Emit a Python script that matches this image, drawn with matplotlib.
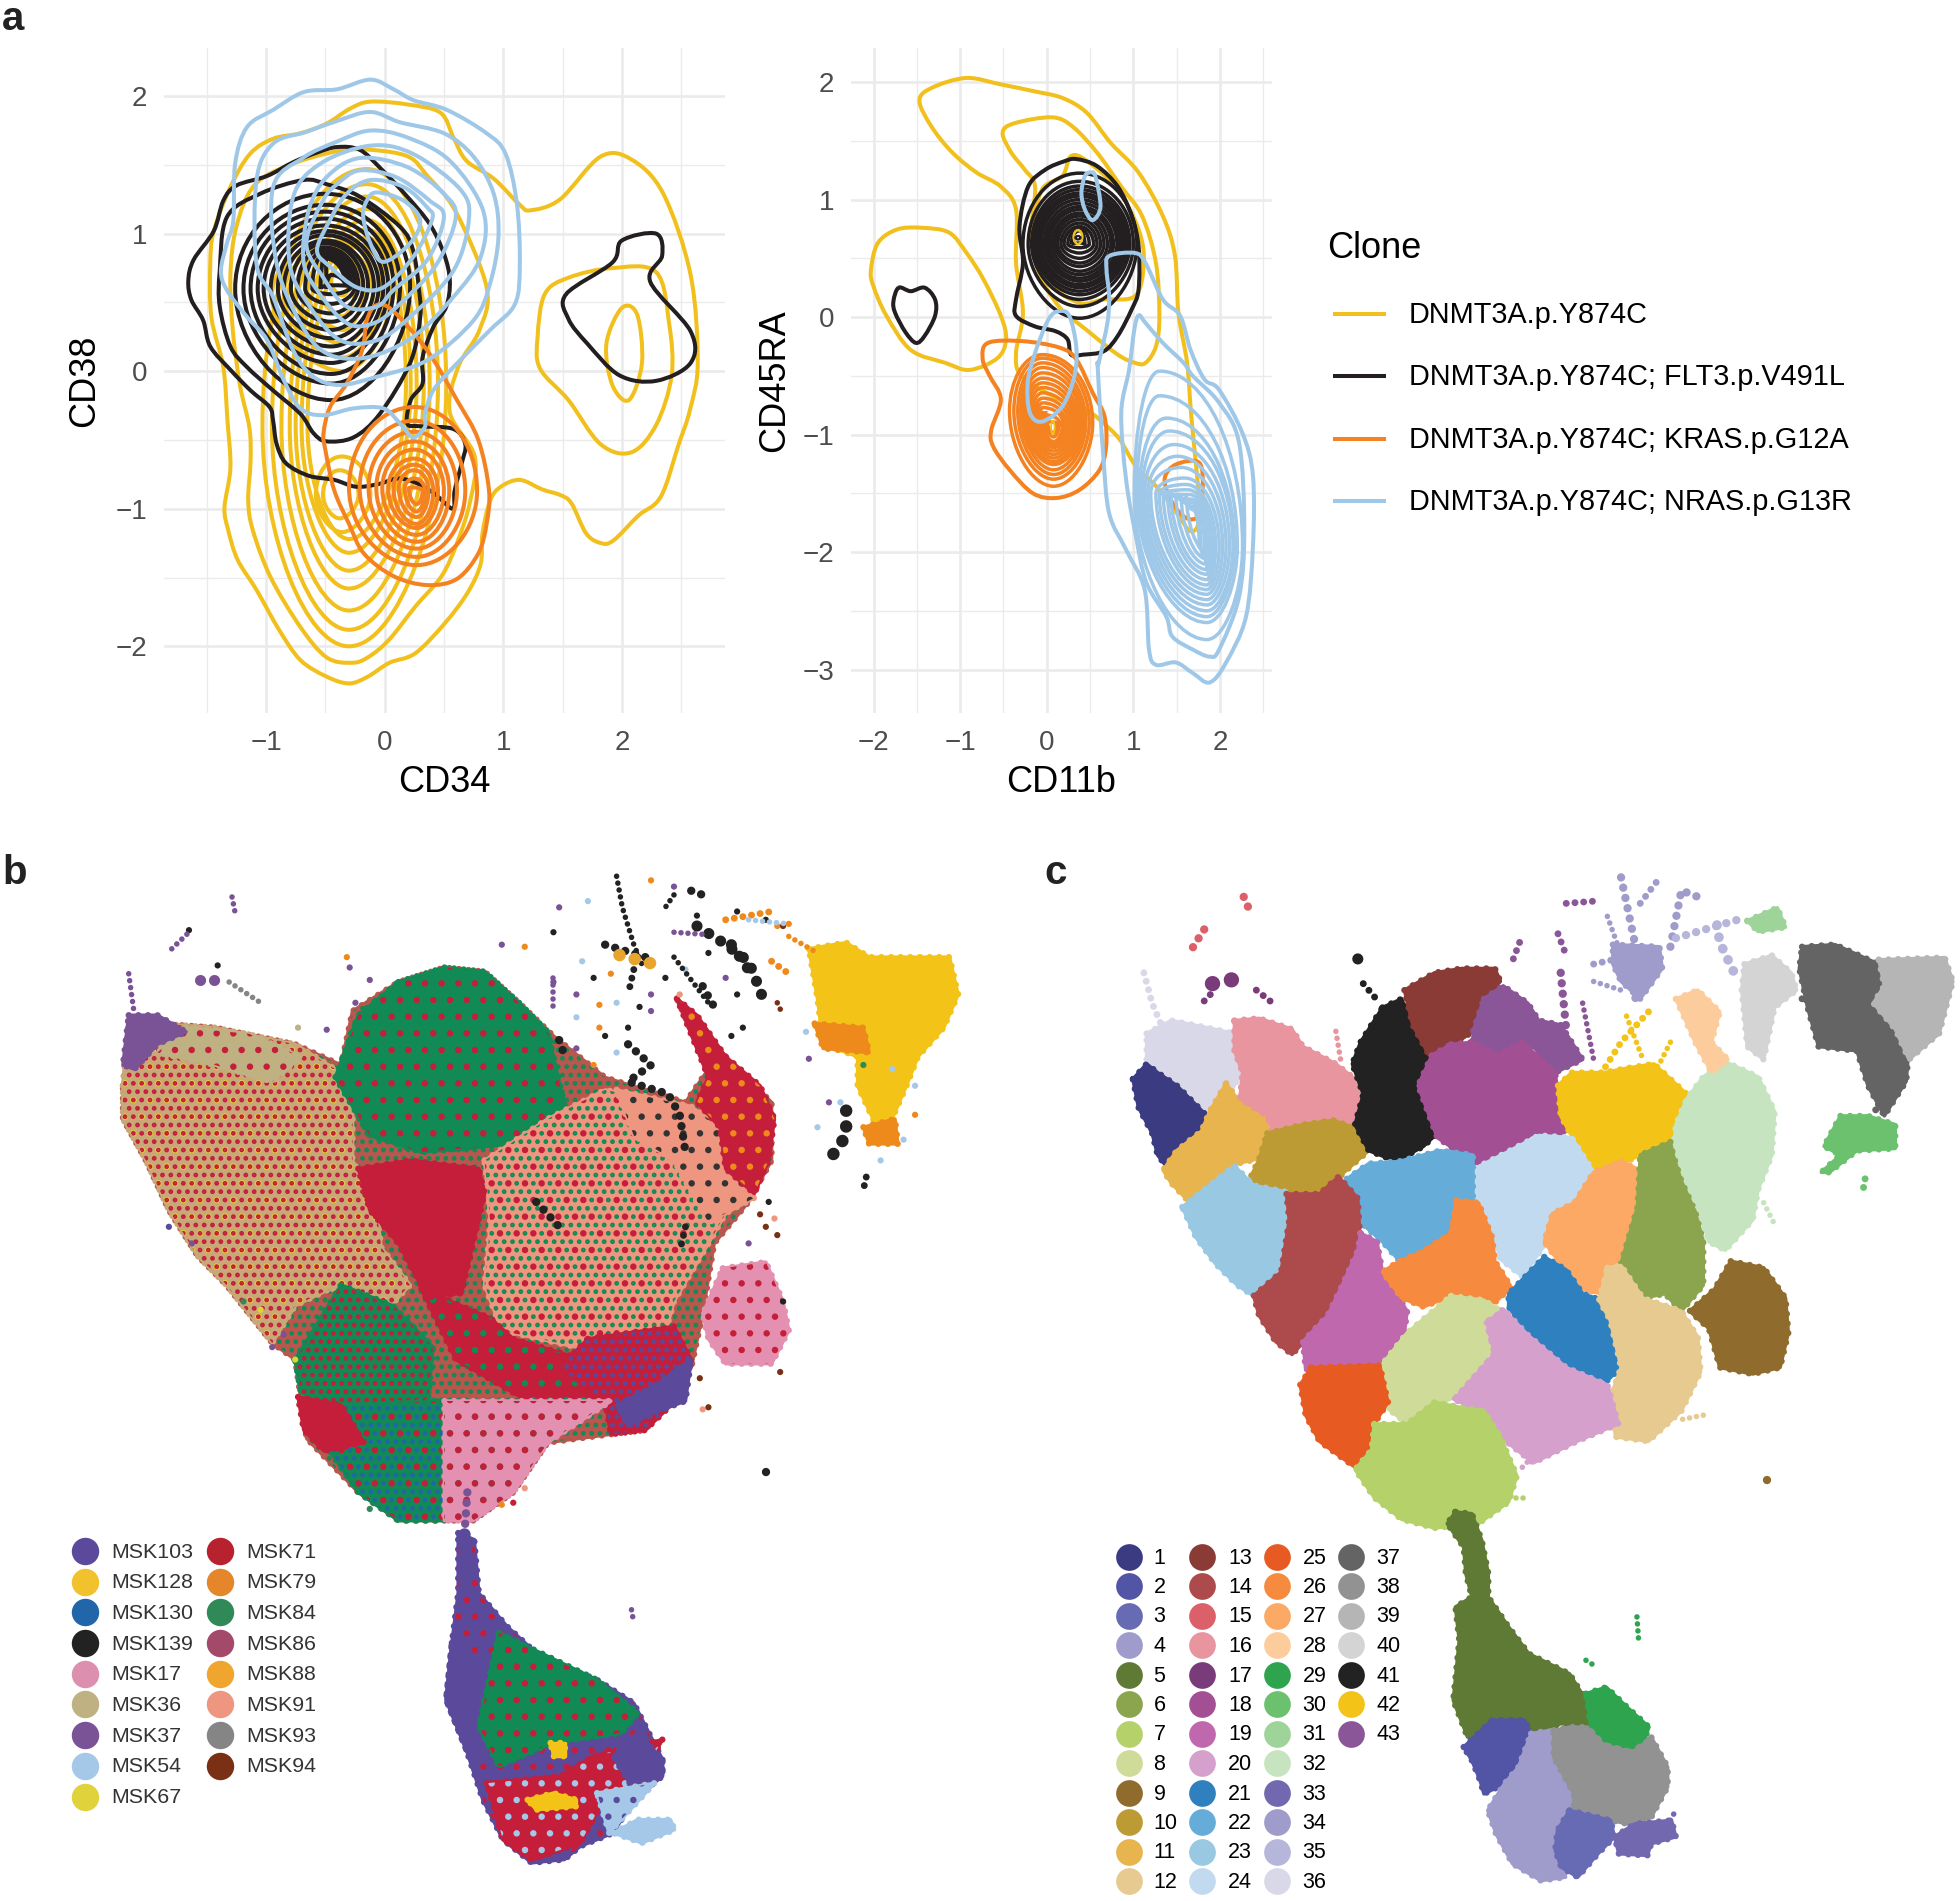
import matplotlib
matplotlib.use("Agg")
import matplotlib as mpl
import matplotlib.pyplot as plt
import numpy as np
from matplotlib.path import Path
from matplotlib.patches import PathPatch, Polygon
from matplotlib.lines import Line2D

plt.rcParams['font.family'] = ['Liberation Sans', 'DejaVu Sans']

W, H = 1960, 1901
YEL, BLK, ORG, BLU = '#f2c01c', '#231f20', '#f58220', '#9fc8e8'
clone_names = ['DNMT3A.p.Y874C', 'DNMT3A.p.Y874C; FLT3.p.V491L',
               'DNMT3A.p.Y874C; KRAS.p.G12A', 'DNMT3A.p.Y874C; NRAS.p.G13R']
clone_colors = [YEL, BLK, ORG, BLU]

# ---------- panel a, left: contours (CD34, CD38) ----------
L_yel_outer = [(-.12,1.96),(.19,1.94),(.47,1.88),(.58,1.70),(.69,1.53),(.92,1.40),(1.14,1.21),(1.23,1.17),(1.48,1.25),
 (1.82,1.56),(2.08,1.54),(2.35,1.29),(2.58,.70),(2.64,.06),(2.575,-.28),(2.48,-.53),(2.33,-.91),(2.14,-1.05),(1.93,-1.23),
 (1.825,-1.25),(1.70,-1.18),(1.575,-.96),(1.48,-.90),(1.33,-.86),(1.14,-.79),(.98,-.84),(.89,-.94),(.825,-1.18),(.81,-1.40),
 (.70,-1.61),(.51,-1.83),(.26,-2.05),(.04,-2.12),(-.14,-2.22),(-.30,-2.27),(-.49,-2.22),(-.71,-2.10),(-.89,-1.88),(-1.08,-1.59),
 (-1.24,-1.37),(-1.32,-1.15),(-1.35,-.99),(-1.30,-.70),(-1.325,-.36),(-1.36,.03),(-1.46,.39),(-1.47,.78),(-1.44,1.02),
 (-1.30,1.34),(-1.135,1.58),(-.94,1.69),(-.71,1.73),(-.49,1.80),(-.29,1.91)]
L_yel_lobe2 = [(1.29,.25),(1.35,.56),(1.55,.68),(1.92,.75),(2.29,.72),(2.40,.34),(2.42,-.03),(2.29,-.39),(2.08,-.59),(1.82,-.53),(1.55,-.21),(1.31,.02)]
L_yel_lobe3 = [(1.87,.20),(2.0,.46),(2.13,.41),(2.17,.06),(2.06,-.21),(1.92,-.10)]
L_yel_second = [(-.12,1.61),(.2,1.56),(.36,1.42),(.6,1.16),(.86,.61),(.80,.30),(.62,.03),(.55,-.3),(.76,-.62),(.72,-.95),
 (.61,-1.25),(.48,-1.49),(.26,-1.71),(.04,-1.95),(-.14,-2.08),(-.28,-2.12),(-.49,-2.08),(-.71,-1.86),(-.96,-1.50),(-1.11,-1.16),
 (-1.15,-.94),(-1.13,-.65),(-1.14,-.41),(-1.22,-.1),(-1.28,.3),(-1.30,.7),(-1.25,1.05),(-1.1,1.35),(-.8,1.5),(-.4,1.6)]
L_yel_left = [-1.03,-.95,-.87,-.80,-.75,-.70,-.65]
L_yel_right = [.52,.45,.38,.33,.27,.22,.18]
L_yel_top = [1.47,1.36,1.27,1.18,1.10,1.03,.97]
L_yel_bottom = [-2.0,-1.88,-1.74,-1.58,-1.45,-1.32,-1.22]
L_yel2_left = [-.58,-.52,-.95,-.85,-.75,-.65,-.55,-.45]
L_yel2_right = [-.12,-.22,.05,-.02,-.1,-.18,-.25,-.3]
L_yel2_top = [-.62,-.72,.95,.92,.88,.85,.82,.78]
L_yel2_bottom = [-1.17,-1.07,0,.1,.2,.3,.4,.55]
L_yel2_cx = [-.36,-.38,-.35,-.35,-.35,-.35,-.35,-.35]
L_yel2_my = [-.9,-.9,.55,.55,.55,.58,.6,.65]

L_blk_outer = [(-.40,1.63),(-.21,1.61),(-.04,1.48),(.19,1.27),(.38,1.07),(.50,.855),(.55,.66),(.52,.47),(.41,.32),(.32,.10),(.32,-.09),
 (.22,-.21),(.19,-.38),(.30,-.40),(.58,-.42),(.68,-.53),(.65,-.67),(.59,-.87),(.575,-1.0),(.42,-.89),(.26,-.81),(.11,-.78),(-.05,-.82),
 (-.24,-.84),(-.425,-.79),(-.64,-.76),(-.83,-.67),(-.91,-.53),(-.94,-.36),(-.97,-.26),(-1.13,-.14),(-1.30,.01),(-1.47,.18),(-1.53,.37),
 (-1.63,.52),(-1.655,.66),(-1.61,.81),(-1.44,1.02),(-1.36,1.24),(-1.25,1.35),(-.99,1.42),(-.77,1.52),(-.57,1.59)]
L_blk_second = [(-1.39,.73),(-1.33,1.12),(-1.05,1.29),(-.685,1.39),(-.49,1.36),(-.21,1.27),(.13,1.05),(.24,.88),(.29,.59),(.30,.39),(.215,.06),
 (-.04,-.31),(-.26,-.48),(-.49,-.51),(-.60,-.45),(-.71,-.31),(-.94,-.14),(-1.16,.03),(-1.30,.18),(-1.39,.47)]
L_blk_lobe = [(1.53,.56),(1.92,.79),(2.0,.95),(2.29,1.0),(2.34,.84),(2.24,.65),(2.58,.29),(2.58,.06),(2.29,-.07),(1.98,-.03),(1.71,.2),(1.55,.38)]
L_blk_left = [-1.26,-1.19,-1.13,-1.07,-1.02,-.96,-.90,-.85,-.79,-.735,-.67,-.61,-.54,-.49]
L_blk_right = [.215,.13,.075,.03,-.01,-.05,-.09,-.14,-.18,-.22,-.25,-.28,-.305,-.33]
L_blk_top = [1.29,1.21,1.16,1.11,1.06,1.02,.99,.95,.93,.90,.88,.86,.84,.82]
L_blk_bottom = [-.21,-.09,-.02,.06,.12,.18,.24,.30,.36,.42,.49,.56,.625,.70]

L_org_outer = [(-.07,.48),(.07,.44),(.36,.15),(.61,-.21),(.79,-.50),(.88,-.865),(.86,-1.11),(.79,-1.325),(.61,-1.51),(.36,-1.555),(.075,-1.49),
 (-.175,-1.325),(-.30,-1.11),(-.425,-.865),(-.50,-.57),(-.515,-.45),(-.46,-.26),(-.32,-.09),(-.19,.15),(-.15,.37)]
L_org_left = [-.30,-.21,-.135,-.07,-.02,.03,.075,.12,.17,.205]
L_org_right = [.78,.68,.61,.545,.50,.45,.41,.37,.34,.32]
L_org_top = [-.26,-.36,-.44,-.51,-.57,-.635,-.68,-.72,-.78,-.845]
L_org_bottom = [-1.41,-1.35,-1.29,-1.24,-1.19,-1.14,-1.11,-1.06,-1.02,-.966]

L_blu_contours = [
 [(-.12,2.12),(.075,2.05),(.245,1.97),(.525,1.90),(.86,1.73),(1.02,1.58),(1.115,1.22),(1.14,.78),(1.10,.49),(.89,.30),(.58,.03),(.41,-.14),(.34,-.31),
  (.34,-.405),(.24,-.48),(.13,-.38),(-.01,-.27),(-.26,-.27),(-.52,-.32),(-.71,-.27),(-.85,-.065),(-.99,.225),(-1.16,.395),(-1.33,.59),(-1.38,.73),
  (-1.33,.93),(-1.275,1.10),(-1.26,1.51),(-1.16,1.775),(-.94,1.90),(-.68,2.03),(-.40,2.05)],
 [(-.12,1.885),(.13,1.81),(.50,1.73),(.75,1.56),(.92,1.29),(.96,.98),(.89,.64),(.75,.37),(.36,.08),(-.065,-.04),(-.375,-.10),(-.60,-.04),(-.77,.15),
  (-.94,.54),(-1.08,.78),(-1.08,1.39),(-.94,1.655),(-.66,1.74),(-.40,1.82)],
 [(-.12,1.75),(.19,1.70),(.55,1.53),(.83,1.17),(.81,.83),(.58,.54),(.24,.25),(-.15,.10),(-.49,.13),(-.71,.35),(-.91,.78),(-.94,1.34),(-.69,1.55),(-.40,1.67)],
 [(-.12,1.64),(.24,1.58),(.64,1.32),(.71,1.10),(.58,.73),(.215,.395),(-.065,.225),(-.375,.225),(-.63,.47),(-.80,.78),(-.77,1.27),(-.54,1.51)],
 [(-.21,1.55),(.19,1.485),(.50,1.29),(.60,1.12),(.44,.78),(.13,.49),(-.09,.35),(-.32,.35),(-.57,.59),(-.685,.81),(-.64,1.17),(-.49,1.41)],
 [(-.21,1.46),(.10,1.41),(.38,1.24),(.50,1.12),(.36,.81),(.075,.59),(-.065,.47),(-.32,.47),(-.52,.685),(-.66,.93),(-.52,1.24),(-.40,1.36)],
 [(-.12,1.39),(.16,1.34),(.36,1.19),(.40,1.10),(.24,.83),(-.01,.61),(-.235,.61),(-.46,.76),(-.57,.88),(-.46,1.10),(-.32,1.29)],
 [(-.065,1.30),(.16,1.24),(.30,1.10),(.215,.93),(-.01,.795),(-.12,.93),(-.18,1.12),(-.15,1.24)],
]

# ---------- panel a, right: contours (CD11b, CD45RA) ----------
R_yel_contours = [
 [(-1.47,1.84),(-1.33,1.95),(-.93,2.035),(-.53,1.98),(-.135,1.92),(.18,1.865),(.46,1.74),(.74,1.48),(1.06,1.23),(1.34,.86),(1.48,.52),(1.52,.035),
  (1.62,-.39),(1.665,-.815),(1.72,-1.24),(1.76,-1.58),(1.74,-1.78),(1.65,-1.82),(1.53,-1.70),(1.30,-1.47),(1.03,-1.27),(.84,-1.04),(.65,-.90),(.47,-.80),
  (.06,-.67),(-.295,-.50),(-.355,-.305),(-.275,.035),(-.355,.46),(-.355,.915),(-.53,1.11),(-.81,1.23),(-1.09,1.40),(-1.33,1.62)],
 [(-2.03,.40),(-1.95,.63),(-1.73,.745),(-1.45,.76),(-1.13,.72),(-.93,.55),(-.73,.32),(-.53,.01),(-.47,-.19),(-.57,-.35),(-.89,-.45),(-1.17,-.39),(-1.57,-.28),(-1.85,.01),(-2.0,.26)],
 [(-.51,1.57),(-.37,1.65),(.06,1.70),(.30,1.62),(.58,1.40),(.86,1.11),(1.10,.86),(1.26,.46),(1.30,.01),(1.26,-.25),(1.14,-.39),(1.02,-.39),(.82,-.32),(.46,-.11),
  (.14,.09),(-.10,.40),(-.175,.745),(-.135,1.11),(-.255,1.255),(-.41,1.40)],
 [(.18,1.2),(.28,1.37),(.46,1.33),(.82,1.085),(1.06,.745),(1.12,.46),(1.02,.18),(.66,.15),(.38,.12),(.06,.29),(-.135,.745),(-.055,1.085)],
]
R_blk_outer = [(.20,1.325),(.34,1.345),(.58,1.285),(.82,1.11),(.98,.86),(1.06,.60),(1.06,.235),(.98,.065),(.82,-.16),(.66,-.29),(.42,-.32),(.28,-.32),(.24,-.19),
 (.10,-.12),(-.135,-.08),(-.355,.01),(-.355,.15),(-.275,.46),(-.315,.77),(-.215,1.11),(-.015,1.255)]
R_blk_blob = [(-1.71,.25),(-1.57,.22),(-1.41,.25),(-1.29,.15),(-1.29,.01),(-1.41,-.16),(-1.51,-.22),(-1.63,-.13),(-1.75,.035),(-1.77,.135)]
R_blk_left = [-.275,-.215,-.175,-.147,-.12,-.09,-.064,-.03,0,.03,.064,.096,.127,.164,.20,.243,.283]
R_blk_right = [1.04,1.0,.96,.93,.90,.87,.84,.81,.77,.74,.70,.66,.62,.58,.54,.49,.44]
R_blk_top = [1.225,1.155,1.115,1.085,1.055,1.03,1.0,.97,.94,.915,.885,.86,.83,.80,.77,.75,.735]
R_blk_bottom = [-.01,.09,.15,.19,.22,.25,.275,.305,.33,.36,.39,.43,.46,.50,.545,.59,.63]

R_org_outer = [(-.68,-.22),(-.28,-.205),(.146,-.26),(.34,-.36),(.53,-.645),(.665,-.84),(.685,-1.10),(.61,-1.30),(.38,-1.47),(.11,-1.54),(-.16,-1.50),(-.43,-1.30),
 (-.62,-1.10),(-.64,-.96),(-.53,-.70),(-.66,-.50),(-.74,-.36)]
R_org_far = [(1.36,-1.38),(1.49,-1.255),(1.76,-1.24),(1.8,-1.47),(1.75,-1.69),(1.61,-1.71),(1.45,-1.58)]
R_org_left = [-.43,-.38,-.335,-.30,-.28,-.25,-.22,-.19,-.16,-.13,-.10,-.07,-.04,-.015]
R_org_right = [.53,.49,.45,.42,.40,.37,.34,.31,.28,.25,.215,.185,.146,.115]
R_org_top = [-.32,-.35,-.39,-.43,-.475,-.52,-.56,-.60,-.645,-.69,-.73,-.77,-.83,-.89]
R_org_bottom = [-1.44,-1.38,-1.34,-1.30,-1.255,-1.23,-1.20,-1.17,-1.14,-1.11,-1.085,-1.06,-1.02,-.985]

R_blu_contours = [
 [(.50,1.23),(.56,1.20),(.62,.94),(.53,.825),(.44,.915),(.40,1.055),(.44,1.20)],
 [(.14,.05),(.26,.01),(.34,-.25),(.32,-.50),(.18,-.76),(-.055,-.89),(-.195,-.815),(-.22,-.56),(-.135,-.305),(.02,-.02)],
 [(.72,.52),(1.02,.545),(1.14,.46),(1.34,.15),(1.54,.01),(1.66,-.28),(1.82,-.53),(1.99,-.62),(2.26,-.99),(2.38,-1.35),(2.38,-1.95),(2.30,-2.55),(2.07,-2.94),
  (1.88,-3.11),(1.685,-3.03),(1.49,-2.94),(1.26,-2.96),(1.18,-2.83),(1.13,-2.32),(.915,-1.98),(.72,-1.67),(.65,-1.16),(.59,-.45),(.60,-.39),(.70,-.05),(.72,.18),(.69,.40)],
 [(1.06,.015),(1.14,-.05),(1.34,-.22),(1.58,-.39),(1.685,-.5),(1.99,-.73),(2.22,-1.07),(2.28,-1.81),(2.22,-2.38),(1.99,-2.83),(1.88,-2.89),(1.685,-2.83),(1.45,-2.72),
  (1.38,-2.55),(1.15,-2.26),(1.03,-1.87),(.915,-1.38),(.86,-.815),(.95,-.45),(1.01,-.11)],
]
R_blu_top_y = [-.46,-.67,-.86,-.97,-1.085,-1.185,-1.28,-1.37,-1.425,-1.47,-1.51,-1.55,-1.58,-1.61,-1.64]
R_blu_top_x = [1.30,1.30,1.38,1.415,1.47,1.51,1.55,1.59,1.61,1.63,1.645,1.665,1.67,1.685,1.69]
R_blu_left = [1.01,1.04,1.07,1.10,1.13,1.165,1.20,1.26,1.30,1.345,1.395,1.435,1.49,1.55,1.61]
R_blu_right = [2.26,2.20,2.165,2.15,2.11,2.07,2.03,1.99,1.95,1.915,1.88,1.845,1.82,1.78,1.76]
R_blu_bottom = [-2.745,-2.60,-2.55,-2.50,-2.45,-2.405,-2.36,-2.32,-2.28,-2.235,-2.19,-2.15,-2.105,-2.06,-2.0]

# ---------- panel b: sample names and colours ----------
sample_names = ['MSK103','MSK128','MSK130','MSK139','MSK17','MSK36','MSK37','MSK54','MSK67',
                'MSK71','MSK79','MSK84','MSK86','MSK88','MSK91','MSK93','MSK94']
sample_colors = ['#5b4a9c','#f2c12e','#2066a8','#222222','#dd8fb0','#bfb182','#7a5296','#a6c8e8','#e0d23a',
                 '#b8222f','#e6862a','#2f8a57','#a34a6b','#efa52e','#ee967f','#858585','#7a3014']
RED, GRN, SAL, TAN, PUR, PUR2, PNK, LBL, YL2, ORN = '#c41e3a','#118a55','#ee967f','#bfb182','#5b4a9c','#7a5296','#e490b0','#a6c8e8','#f3c417','#ee8a1c'

# regions of mixed samples as outlines on the UMAP: (outline, base colour, [(dot colour, dot density)])
b_regions = [
 # whole upper body behind the regions
 ([(40,520),(50,370),(100,370),(200,380),(340,420),(420,470),(440,340),(520,270),(600,235),(670,245),(730,320),(790,400),(880,500),(1020,560),(1060,480),(1005,310),
   (1090,450),(1170,560),(1170,700),(1130,800),(1070,900),(1050,1070),(1030,1200),(950,1350),(890,1360),(780,1380),(720,1500),(650,1568),(520,1568),(450,1500),(360,1370),(340,1180),(300,1140),(220,1000),(170,930),(120,820),(80,700),(40,600)],
  '#b9574f',[(GRN,'..')]),
 ([(40,520),(50,380),(100,370),(200,380),(340,420),(410,480),(440,570),(440,700),(480,800),(490,910),(540,1000),(500,1060),(400,1010),(340,1050),(300,1140),(220,1000),(170,930),(120,820),(80,700),(40,600)],
  '#c9a878',[('#e8d72e','.'),(RED,'..')]),
 ([(150,380),(260,395),(350,450),(300,510),(200,470),(100,440)],TAN,[(RED,'.')]),
 ([(50,350),(100,350),(150,390),(100,420),(60,480),(40,470)],PUR2,[]),
 ([(520,270),(600,235),(670,245),(730,320),(780,390),(810,570),(720,660),(560,680),(470,640),(410,500),(450,350)],GRN,[(RED,'.')]),
 ([(670,700),(780,600),(880,530),(1020,570),(1090,660),(1110,780),(1060,900),(1000,1040),(980,1140),(830,1150),(700,1110),(670,1000),(680,850)],SAL,[(GRN,'..'),(RED,'.')]),
 ([(900,530),(1030,570),(1100,640),(1140,790),(1060,850),(1000,700),(930,640)],SAL,[('#333333','.')]),
 ([(340,1180),(420,1000),(510,1050),(580,1150),(570,1300),(430,1300),(350,1260)],GRN,[(RED,'..')]),
 ([(560,1010),(680,1080),(720,1130),(890,1200),(890,1290),(770,1300),(620,1180)],RED,[(GRN,'.')]),
 ([(850,1130),(1000,1100),(1030,1180),(1010,1270),(950,1350),(890,1360),(880,1280),(800,1200)],RED,[(PUR,'..')]),
 ([(420,1290),(600,1280),(600,1568),(520,1568),(450,1500),(400,1400)],GRN,[('#2066a8','..'),(RED,'.')]),
 ([(600,1280),(890,1280),(780,1380),(720,1500),(650,1568),(600,1568)],PNK,[(GRN,'.'),(RED,'.')]),
 ([(970,1240),(1030,1180),(1020,1280),(960,1310),(920,1340),(900,1290)],PUR,[]),
 ([(345,1270),(420,1290),(460,1380),(390,1400),(355,1350)],RED,[]),
 ([(450,720),(540,700),(660,720),(670,780),(650,900),(630,1020),(570,1030),(520,900),(470,820)],RED,[]),
 ([(1005,310),(1040,350),(1090,450),(1150,520),(1175,600),(1165,700),(1140,780),(1090,720),(1080,620),(1040,560),(1060,500)],RED,[(ORN,'.')]),
 ([(1085,960),(1160,945),(1190,1040),(1200,1110),(1170,1190),(1090,1190),(1060,1130),(1050,1070)],PNK,[(RED,'.')]),
 ([(1235,190),(1300,175),(1340,210),(1480,210),(1495,300),(1470,380),(1425,450),(1405,520),(1380,600),(1350,610),(1320,520),(1320,450),(1260,420),(1250,310)],YL2,[]),
 ([(1245,370),(1330,380),(1340,440),(1260,430)],ORN,[]),
 ([(1330,620),(1385,600),(1390,660),(1340,660)],ORN,[]),
 # lower lobe
 ([(624,1598),(652,1614),(660,1743),(709,1823),(766,1895),(866,1952),(930,2008),(980,2144),(980,2184),(930,2241),(894,2321),(837,2353),(809,2385),(752,2393),(702,2337),(667,2241),(638,2120),(603,2000),(613,1863),(624,1743)],PUR,[(RED,'.')]),
 ([(613,1863),(681,1920),(681,2048),(652,2128),(638,2120),(603,2000)],PUR,[]),
 ([(695,1839),(866,1952),(937,2032),(908,2080),(788,2104),(695,2160),(660,2064)],GRN,[(RED,'.')]),
 ([(674,2201),(802,2184),(859,2136),(980,2096),(937,2201),(887,2217),(837,2345),(752,2386),(702,2337)],RED,[(LBL,'.')]),
 ([(937,2080),(980,2144),(980,2184),(923,2201),(894,2136)],PUR,[]),
 ([(866,2225),(966,2201),(887,2321)],LBL,[(PUR,'.')]),
 ([(894,2321),(937,2289),(994,2289),(1001,2313),(944,2345)],LBL,[]),
 ([(745,2241),(790,2225),(830,2241),(830,2257),(760,2265)],YL2,[]),
 ([(785,2104),(810,2104),(810,2136),(790,2136)],YL2,[]),
]
b_strokes = [
 ('#222222',[(1040,135),(1080,170),(1130,220),(1150,290),(1160,330)],8),
 ('#222222',[(1100,180),(1140,260)],8),
 ('#222222',[(1050,280),(1070,330)],6),
 ('#222222',[(900,15),(910,90),(930,180),(945,230)],4),
 ('#222222',[(1000,60),(985,90)],4),
 ('#222222',[(1030,50),(1050,60)],6),
 ('#222222',[(880,180),(950,210)],6),
 ('#222222',[(930,240),(920,300)],5),
 ('#222222',[(920,420),(960,470),(920,510),(990,540),(1010,590),(1020,680)],6),
 ('#222222',[(1000,210),(1060,320)],4),
 ('#222222',[(800,410),(810,450)],6),
 ('#222222',[(760,800),(800,860)],6),
 ('#222222',[(1020,860),(1010,920)],5),
 ('#222222',[(1300,580),(1300,640),(1265,710)],9),
 ('#222222',[(1335,740),(1330,770)],5),
 ('#222222',[(1160,1452),(1160,1472)],6),
 ('#e8a52e',[(905,205),(960,225)],9),
 (ORN,[(1090,120),(1170,100)],5),
 (ORN,[(1170,220),(1200,250)],5),
 (PUR2,[(50,250),(60,350)],4),
 (PUR2,[(175,265),(205,265)],8),
 (PUR2,[(125,190),(155,150)],4),
 (PUR2,[(230,65),(235,100)],4),
 ('#858585',[(225,270),(280,320)],4),
 (PUR2,[(640,1500),(635,1600)],6),
 (PUR,[(635,1600),(635,1750)],9),
 (PUR2,[(926,1783),(930,1815)],4),
 ('#7a3014',[(1180,320),(1190,350)],4),
 (PUR2,[(790,260),(790,330)],4),
 (PUR2,[(1000,150),(1050,155)],4),
 (LBL,[(1130,120),(1200,130)],4),
 (ORN,[(1200,160),(1250,200)],4),
]
b_stray_x = [800,850,700,740,430,435,470,445,395,345,1180,1160,1190,1100,870,830,1110,1330,1200,1235,1230,1380,1420,1050,1190,1185,1045,1060,700,720,740,470,300,155,205,790,790,960,1040,1000,1290,
             840,860,890,900,830,870,940,960,985,1020,1060,1090,1110,1120,830,860,880,900,920,960,1010,1250,1270,1360,1400,1420,1150,1160,1175,1130,1180,1165,340,320,280,250,160,120]
b_stray_y = [90,75,180,185,210,235,265,320,385,380,135,120,135,400,325,355,100,470,130,455,390,480,520,1300,1040,1210,1225,1295,1530,1525,1490,1540,1150,145,230,150,270,25,110,40,560,
             220,260,250,320,300,380,330,300,260,240,200,260,300,380,430,470,400,440,380,340,300,620,560,700,650,590,830,860,840,900,880,800,1180,1120,1060,1040,900,860]
b_stray_c = ['#7a5296','#a6c8e8','#7a5296','#ee8a1c','#ee8a1c','#7a5296','#7a5296','#7a5296','#7a5296','#bfb182','#ee8a1c','#222222','#7a3014','#222222','#ee8a1c','#a6c8e8','#222222','#2f8a57','#ee8a1c','#7a5296','#a6c8e8','#a6c8e8','#a6c8e8','#ee967f','#222222','#7a3014','#7a3014','#7a3014','#ee8a1c','#c41e3a','#ee967f','#2f8a57','#7a5296','#222222','#222222','#222222','#7a5296','#ee8a1c','#222222','#7a5296','#a6c8e8',
             '#a6c8e8','#222222','#ee8a1c','#a6c8e8','#7a5296','#ee8a1c','#222222','#7a5296','#222222','#a6c8e8','#222222','#7a5296','#222222','#222222','#7a5296','#ee8a1c','#222222','#a6c8e8','#222222','#7a5296','#ee967f','#a6c8e8','#7a5296','#a6c8e8','#a6c8e8','#ee8a1c','#7a3014','#7a3014','#ee967f','#7a5296','#7a3014','#222222','#e0d23a','#7a5296','#e0d23a','#2f8a57','#7a5296','#5b4a9c']

# ---------- panel c: cluster colours and outlines on the UMAP ----------
cluster_ids = list(range(1, 44))
cluster_colors = ['#3b3b82','#5255a5','#676bb3','#9f9ccb','#5f7a35','#8aa54e','#b4d16a','#cfdc99','#8f6c2e','#bc9a34','#e7b44e','#e6ca90',
 '#8a3b36','#ad4a4c','#dc606a','#e8959f','#7a3b7a','#a34f94','#bf68ae','#d6a0cc','#2e80bf','#65acd8','#99c9e2','#c2daef',
 '#e75a21','#f68b3f','#fba965','#fdcc9c','#2ea44e','#6cc16f','#9ed49a','#c7e4c0','#7268b0','#9f9ccb','#b6b6da','#d9d8e9',
 '#646464','#929292','#b5b5b5','#d4d4d4','#222222','#f3c417','#8b5697']
c_outlines = {
 36:[(85,400),(130,370),(190,385),(245,400),(245,460),(260,490),(225,560),(215,575),(190,580),(140,520),(105,490),(85,460)],
 1:[(60,505),(85,470),(105,490),(140,520),(195,590),(185,625),(140,670),(120,705),(105,680),(95,630),(70,570)],
 11:[(230,515),(250,550),(305,590),(305,635),(285,690),(250,700),(200,750),(160,785),(130,745),(115,715),(140,670),(185,625),(200,580)],
 16:[(245,370),(290,365),(350,390),(370,430),(430,470),(480,520),(480,590),(460,610),(425,600),(370,605),(315,625),(305,590),(255,550),(260,490),(245,440)],
 10:[(305,630),(370,610),(425,600),(470,620),(490,670),(445,720),(410,770),(345,765),(290,755),(275,730),(290,690)],
 41:[(515,340),(550,320),(565,370),(605,450),(580,520),(615,630),(590,660),(540,695),(490,670),(465,610),(480,540),(460,470),(475,420)],
 13:[(555,300),(610,260),(660,250),(720,250),(730,280),(700,320),(680,395),(640,430),(600,450),(570,380)],
 43:[(700,320),(735,290),(780,330),(800,370),(840,380),(880,460),(830,490),(790,430),(760,425),(725,450),(680,420),(680,395)],
 18:[(640,425),(680,420),(725,450),(770,420),(830,490),(840,590),(855,620),(830,645),(790,630),(745,670),(690,705),(615,640),(580,520),(605,450)],
 42:[(835,520),(860,490),(920,490),(960,480),(1010,470),(1070,540),(1065,610),(1040,640),(985,680),(960,695),(910,720),(880,680),(855,625),(840,590)],
 32:[(1140,465),(1200,500),(1230,580),(1225,680),(1200,760),(1190,830),(1140,900),(1110,880),(1090,800),(1060,740),(1045,680),(1050,610),(1070,550),(1100,500)],
 24:[(685,710),(740,675),(800,635),(860,640),(900,720),(895,760),(865,790),(825,815),(815,880),(770,960),(730,920),(715,850),(680,790)],
 22:[(450,735),(490,700),(545,695),(620,670),(680,680),(680,790),(645,800),(640,860),(590,905),(550,930),(515,880),(470,830),(465,780)],
 23:[(150,800),(200,750),(245,705),(280,750),(340,765),(340,840),(330,940),(280,1005),(250,980),(210,930),(175,870)],
 14:[(340,770),(400,770),(435,730),(470,780),(475,890),(440,980),(410,1060),(350,1140),(320,1110),(290,1050),(280,1005),(330,950),(345,830)],
 19:[(475,860),(505,880),(515,950),(560,1040),(555,1090),(510,1165),(450,1160),(375,1175),(370,1110),(415,1050),(440,985),(470,900)],
 26:[(650,785),(690,790),(715,870),(720,925),(750,985),(720,1020),(650,1000),(590,1030),(550,1010),(515,950),(545,925),(585,905),(640,860)],
 27:[(950,695),(985,715),(980,790),(955,930),(915,1000),(880,990),(850,950),(810,880),(825,815),(865,790),(900,720)],
 6:[(1040,650),(1045,680),(1060,740),(1085,810),(1100,880),(1100,980),(1060,1040),(1030,1000),(990,1010),(950,930),(980,800),(985,680)],
 9:[(1150,925),(1210,940),(1250,1010),(1255,1090),(1240,1170),(1190,1185),(1130,1170),(1110,1080),(1075,1040),(1120,990)],
 21:[(810,915),(850,945),(880,1000),(915,1015),(940,1090),(950,1170),(925,1200),(850,1165),(780,1095),(745,1030),(745,1000)],
 12:[(925,940),(950,935),(990,1010),(1060,1040),(1090,1100),(1095,1180),(1060,1270),(1000,1340),(940,1330),(930,1240),(950,1170),(930,1060),(910,1015)],
 20:[(700,1060),(735,1035),(780,1095),(850,1170),(925,1210),(945,1300),(870,1340),(790,1390),(740,1340),(690,1270),(640,1240),(680,1160),(710,1130)],
 8:[(640,1005),(700,1015),(725,1035),(695,1060),(710,1135),(665,1200),(630,1250),(560,1300),(520,1260),(510,1170),(560,1090)],
 25:[(385,1170),(510,1165),(525,1250),(495,1310),(500,1360),(465,1400),(400,1340),(375,1280),(365,1210)],
 7:[(500,1300),(560,1300),(610,1250),(670,1265),(700,1270),(730,1330),(760,1420),(745,1480),(690,1530),(610,1540),(550,1520),(500,1470),(465,1405),(495,1360)],
 28:[(1050,320),(1090,300),(1130,350),(1115,420),(1145,460),(1115,490),(1085,420)],
 40:[(1175,240),(1225,220),(1260,260),(1270,300),(1230,340),(1210,460),(1180,430),(1170,300)],
 37:[(1280,200),(1340,195),(1420,240),(1430,350),(1475,430),(1470,510),(1430,590),(1400,520),(1380,440),(1310,430),(1290,340),(1275,250)],
 39:[(1420,230),(1540,225),(1555,280),(1530,400),(1475,460),(1450,390),(1410,330),(1430,290)],
 30:[(1350,590),(1400,590),(1450,610),(1450,665),(1380,670),(1330,720),(1315,720),(1350,680),(1320,660)],
 4:[(935,195),(1020,200),(1025,250),(985,320),(950,280),(935,240)],
 31:[(1180,140),(1235,110),(1250,155),(1200,165)],
 5:[(648,1503),(678,1507),(696,1568),(708,1645),(708,1699),(745,1768),(782,1830),(856,1876),(894,1953),(890,1999),(841,1991),(782,2014),(774,1983),(715,1983),(700,2022),(670,2022),(644,1937),(655,1799),(648,1722),(678,1699),(667,1645),(663,1584),(633,1530)],
 2:[(663,2045),(715,1983),(774,1983),(786,2014),(763,2091),(737,2130),(700,2153),(693,2122),(678,2076)],
 34:[(786,2014),(819,2007),(827,2068),(864,2153),(864,2191),(834,2260),(830,2291),(849,2345),(804,2353),(752,2314),(722,2245),(707,2191),(737,2130),(763,2091)],
 38:[(827,2007),(856,1999),(890,1999),(923,2030),(968,2045),(1005,2022),(1035,2091),(1035,2137),(1005,2207),(961,2222),(931,2214),(886,2191),(864,2191),(864,2153),(827,2068)],
 29:[(886,1922),(923,1907),(961,1953),(1001,1999),(994,2022),(968,2045),(923,2030),(894,1991)],
 3:[(856,2191),(931,2214),(938,2252),(908,2291),(871,2345),(841,2322),(830,2283),(834,2237)],
 33:[(938,2252),(975,2222),(1042,2214),(1050,2252),(1005,2268),(998,2295),(946,2291)],
}
c_strokes = [
 (36,[(80,260),(95,330),(115,390)],5),(4,[(950,40),(960,100),(975,190)],6),(4,[(1040,200),(1060,70),(1100,90)],6),(4,[(985,100),(1015,50)],5),
 (4,[(900,240),(935,230)],5),(4,[(1000,280),(975,320)],6),(35,[(1050,180),(1170,135)],6),(35,[(1125,150),(1130,190),(1160,270)],7),
 (17,[(205,285),(245,275)],11),(17,[(285,300),(320,335)],5),(17,[(190,325),(205,305)],5),(15,[(262,85),(274,120)],6),(15,[(190,160),(160,220)],6),
 (41,[(470,228),(482,245)],8),(41,[(480,285),(510,330)],5),(43,[(850,100),(900,95)],5),(43,[(765,190),(750,240)],5),(43,[(835,170),(850,220)],5),
 (43,[(840,260),(850,390)],6),(43,[(880,330),(900,460)],4),(42,[(1000,350),(950,420),(920,480)],5),(9,[(1217,1430),(1217,1450)],6),(30,[(1395,735),(1390,770)],5),
 (16,[(430,395),(440,470)],4),(7,[(720,1470),(780,1470)],4),(29,[(886,1845),(905,1860)],4),(29,[(979,1745),(982,1799)],4),(33,[(1040,2214),(1050,2190)],4),
 (40,[(1185,260),(1210,460)],4),(37,[(1430,580),(1410,575)],5),(32,[(1210,790),(1230,840)],4),(42,[(1040,420),(1020,470)],4),(42,[(960,360),(990,460)],4),
 (4,[(900,280),(950,300)],4),(4,[(925,130),(945,200)],4),(37,[(1280,320),(1300,300)],5),(12,[(1100,1280),(1060,1290)],4),(20,[(770,1400),(800,1360)],4),
]

# ---------- drawing helpers ----------
def closed_curve(pts):
    p = np.array(pts, float); n = len(p)
    verts = [p[0]]; codes = [Path.MOVETO]
    for i in range(n):
        a, b, c, d = p[i-1], p[i], p[(i+1) % n], p[(i+2) % n]
        verts += [b + (c-a)/6, c - (d-b)/6, c]
        codes += [Path.CURVE4]*3
    return Path(verts, codes)

def ring_path(t, r, b, l, k=.55, kb=.45):
    v = [t,
         (t[0]+k*(r[0]-t[0]), t[1]), (r[0], r[1]+k*(t[1]-r[1])), r,
         (r[0], r[1]-kb*(r[1]-b[1])), (b[0]+kb*(r[0]-b[0]), b[1]), b,
         (b[0]-kb*(b[0]-l[0]), b[1]), (l[0], l[1]-kb*(l[1]-b[1])), l,
         (l[0], l[1]+k*(t[1]-l[1])), (t[0]-k*(t[0]-l[0]), t[1]), t]
    return Path(v, [Path.MOVETO]+[Path.CURVE4]*12)

LW = 2.9
def curve(ax, pts, col, lw=LW):
    ax.add_patch(PathPatch(closed_curve(pts), fc='none', ec=col, lw=lw, joinstyle='round'))

def rings(ax, col, left, right, top, bottom, tx, bx, ly, ry, lw=LW, kb=.45):
    for i in range(len(left)):
        tx_i = tx[i] if np.ndim(tx) else tx
        bx_i = bx[i] if np.ndim(bx) else bx
        ly_i = ly[i] if np.ndim(ly) else ly
        ry_i = ry[i] if np.ndim(ry) else ry
        ax.add_patch(PathPatch(ring_path((tx_i, top[i]), (right[i], ry_i), (bx_i, bottom[i]), (left[i], ly_i), kb=kb),
                               fc='none', ec=col, lw=lw))

def setup_axes(rect_px, xlim, ylim, xmaj, xmin, ymaj, ymin, xlabel, ylabel, xl_py, yl_px):
    x0, y0, x1, y1 = rect_px
    ax = fig.add_axes([x0/W, 1-y1/H, (x1-x0)/W, (y1-y0)/H])
    ax.set_xlim(xlim); ax.set_ylim(ylim)
    ax.set_xticks(xmaj); ax.set_xticks(xmin, minor=True)
    ax.set_yticks(ymaj); ax.set_yticks(ymin, minor=True)
    ax.set_xticklabels([str(v).replace('-', '\u2212') for v in xmaj])
    ax.set_yticklabels([str(v).replace('-', '\u2212') for v in ymaj])
    ax.grid(which='major', color='#ebebeb', lw=1.9)
    ax.grid(which='minor', color='#ebebeb', lw=1.0)
    ax.set_axisbelow(True)
    ax.tick_params(which='both', length=0)
    ax.tick_params(axis='x', labelsize=20, labelcolor='#4d4d4d', pad=12)
    ax.tick_params(axis='y', labelsize=20, labelcolor='#4d4d4d', pad=12)
    for s in ax.spines.values():
        s.set_visible(False)
    ax.set_xlabel(xlabel, fontsize=26, va='center')
    ax.set_ylabel(ylabel, fontsize=26, va='center')
    ax.xaxis.set_label_coords(.5, (y1-xl_py)/(y1-y0))
    ax.yaxis.set_label_coords((yl_px-x0)/(x1-x0), .5)
    return ax

fig = plt.figure(figsize=(W/100, H/100), dpi=100, facecolor='white')

# ---------- panel a left ----------
axL = setup_axes((164,48,725,713), (-1.86,2.87), (-2.485,2.35),
                 [-1,0,1,2], [-1.5,-.5,.5,1.5,2.5], [-2,-1,0,1,2], [-1.5,-.5,.5,1.5],
                 'CD34', 'CD38', 782, 85)
for c in (L_yel_outer, L_yel_lobe2, L_yel_lobe3, L_yel_second):
    curve(axL, c, YEL)
rings(axL, YEL, L_yel_left, L_yel_right, L_yel_top, L_yel_bottom, -.15, -.3, -.4, -.1, kb=.5)
rings(axL, YEL, L_yel2_left, L_yel2_right, L_yel2_top, L_yel2_bottom, L_yel2_cx, L_yel2_cx, L_yel2_my, L_yel2_my)
for c in (L_blk_outer, L_blk_second, L_blk_lobe):
    curve(axL, c, BLK)
rings(axL, BLK, L_blk_left, L_blk_right, L_blk_top, L_blk_bottom, -.5, -.45, .6, .62, kb=.5)
curve(axL, L_org_outer, ORG)
rings(axL, ORG, L_org_left, L_org_right, L_org_top, L_org_bottom, .25, .27, -.85, -.87, kb=.52)
for c in L_blu_contours:
    curve(axL, c, BLU)

# ---------- panel a right ----------
axR = setup_axes((851,48,1272,713), (-2.26,2.6), (-3.37,2.29),
                 [-2,-1,0,1,2], [-1.5,-.5,.5,1.5,2.5], [-3,-2,-1,0,1,2], [-2.5,-1.5,-.5,.5,1.5],
                 'CD11b', 'CD45RA', 782, 775)
for c in R_yel_contours:
    curve(axR, c, YEL)
curve(axR, R_blk_outer, BLK); curve(axR, R_blk_blob, BLK)
rings(axR, BLK, R_blk_left, R_blk_right, R_blk_top, R_blk_bottom, .38, .38, .62, .62, lw=2.5, kb=.5)
rings(axR, YEL, [.31], [.41], [.74], [.62], .36, .36, .68, .68, lw=1.8)
rings(axR, BLK, [.33], [.39], [.69], [.66], .36, .36, .675, .675, lw=1.6)
curve(axR, R_org_outer, ORG); curve(axR, R_org_far, ORG)
rings(axR, ORG, R_org_left, R_org_right, R_org_top, R_org_bottom, -.05, .08, -.8, -.9, lw=2.5, kb=.5)
rings(axR, YEL, [.05], [.09], [-.88], [-1.0], .07, .07, -.94, -.94, lw=1.3)
for c in R_blu_contours:
    curve(axR, c, BLU)
rings(axR, BLU, R_blu_left, R_blu_right, R_blu_top_y, R_blu_bottom, R_blu_top_x, 1.85, -1.5, -1.95, lw=2.5, kb=.5)

# ---------- UMAP panels ----------
def umap_axes(x0, y0, x1, y1, xmax, ymax):
    ax = fig.add_axes([x0/W, 1-y1/H, (x1-x0)/W, (y1-y0)/H])
    ax.set_xlim(0, xmax); ax.set_ylim(ymax, 0); ax.axis('off')
    return ax

def region(ax, pts, base, dots=()):
    ax.add_patch(Polygon(pts, closed=True, fc=base, ec=base, lw=2.5, joinstyle='round'))
    ax.add_patch(Polygon(pts, closed=True, fc='none', ec=base, lw=4.6, capstyle='round', joinstyle='round', ls=(0, (0.01, 1.5))))
    for col, h in dots:
        plt.rcParams['hatch.linewidth'] = 2.2
        ax.add_patch(Polygon(pts, closed=True, fc='none', ec=col, lw=0, hatch=h))

def beads(ax, pts, col, lw):
    p = np.array(pts)
    ax.plot(p[:,0], p[:,1], color=col, lw=lw, ls=(0, (0.01, 1.25)), dash_capstyle='round', dash_joinstyle='round')

axB = umap_axes(100, 870, 1000, 1901, 1568, 2485)
for pts, base, dots in b_regions:
    region(axB, pts, base, dots)
for col, pts, lw in b_strokes:
    beads(axB, pts, col, lw)
axB.scatter(b_stray_x, b_stray_y, s=20, c=b_stray_c, linewidths=0)

axC = umap_axes(1100, 860, 1960, 1888, 1568, 2370)
for cid, pts in c_outlines.items():
    region(axC, pts, cluster_colors[cid-1])
for cid, pts, lw in c_strokes:
    beads(axC, pts, cluster_colors[cid-1], lw)

# ---------- legends and letters (figure pixel overlay) ----------
ov = fig.add_axes([0, 0, 1, 1]); ov.set_xlim(0, W); ov.set_ylim(H, 0); ov.axis('off'); ov.patch.set_alpha(0)

ov.text(1327, 248, 'Clone', fontsize=26, va='center', ha='left', color='black')
for name, col, y in zip(clone_names, clone_colors, [315, 377, 440, 502]):
    ov.add_line(Line2D([1335, 1384], [y-1, y-1], color=col, lw=2.9))
    ov.text(1409, y, name, fontsize=20.8, va='center', ha='left', color='black')

for i, (name, col) in enumerate(zip(sample_names, sample_colors)):
    col_i = 0 if i < 9 else 1
    row = i if i < 9 else i-9
    y = 1551 + row*30.7
    ov.scatter([85 if col_i == 0 else 220], [y], s=390, c=col, linewidths=0)
    ov.text(111 if col_i == 0 else 246, y+1, name, fontsize=15.4, va='center', ha='left', color='#333333')

for i, (cid, col) in enumerate(zip(cluster_ids, cluster_colors)):
    col_i, row = i//12, i % 12
    y = 1557 + row*29.5
    ov.scatter([[1129, 1202.4, 1276.7, 1351][col_i]], [y], s=370, c=col, linewidths=0)
    ov.text([1153.5, 1228, 1302.4, 1376][col_i], y+1, str(cid), fontsize=15.5, va='center', ha='left', color='black')

for txt, x, y in [('a', 2, 19), ('b', 2, 873), ('c', 1044, 873)]:
    ov.text(x, y, txt, fontsize=29, fontweight='bold', va='center', ha='left', color='#222222')

fig.savefig('out.png', dpi=100, facecolor='white')
